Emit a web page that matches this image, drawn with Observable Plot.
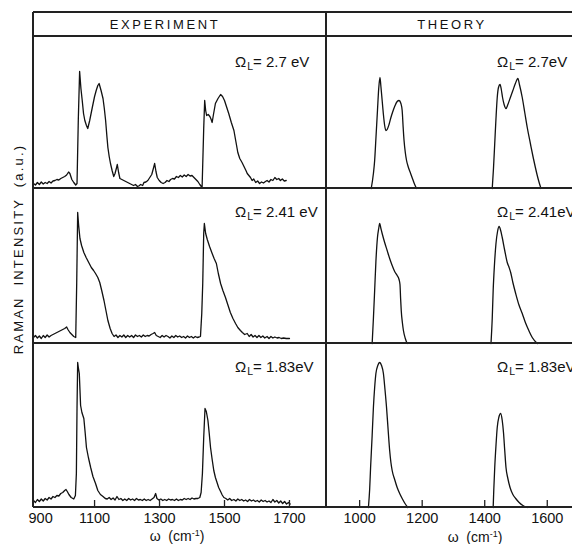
<!DOCTYPE html>
<html><head><meta charset="utf-8">
<script src="https://cdn.jsdelivr.net/npm/d3@7"></script>
<script src="https://cdn.jsdelivr.net/npm/@observablehq/plot@0.6"></script>
<style>
html,body{margin:0;padding:0;background:#fff;overflow:hidden;width:572px;height:544px}
#fig{position:relative;width:620px;height:544px;font-family:"Liberation Sans",Arial,sans-serif;color:#111}
.hl{position:absolute;height:1.5px;background:#222}
.vl{position:absolute;width:1.5px;background:#222}
.panel{position:absolute}
.lbl{position:absolute;font-size:15px;white-space:nowrap;line-height:15px}
.lbl sub{font-size:10.5px;vertical-align:-3px;margin-left:1px}
.head{position:absolute;font-size:13px;letter-spacing:2.6px;white-space:nowrap;transform:translateX(-50%);line-height:13px}
.xlab{position:absolute;font-size:14px;white-space:nowrap;transform:translate(-50%,-50%);line-height:14px}
.xlab sup{font-size:9px;vertical-align:5px}
.ylab{position:absolute;font-size:13px;letter-spacing:2.2px;word-spacing:5px;white-space:nowrap;transform:translate(-50%,-50%) rotate(-90deg);line-height:13px}
</style></head>
<body><div id="fig"></div>
<script>
// ---------- data (ω in cm^-1, intensity in arbitrary units) ----------
const columns = ["EXPERIMENT", "THEORY"];
const laserEnergies = ["2.7", "2.41", "1.83"];
const expLabelText = ["2.7 eV", "2.41 eV", "1.83eV"];
const thyLabelText = ["2.7eV", "2.41eV", "1.83eV"];
const expTicks = [900, 1100, 1300, 1500, 1700];
const thyTicks = [1000, 1200, 1400, 1600];
const expDomain = [912, 1814];
const thyDomain = [894, 1831];
const rowMax = [152, 155, 164];

const exp27 = [[912,5],[918,3.5],[924,6],[930,4],[936,6.5],[942,4.5],[948,6],[954,5],[960,7],[966,5.5],[972,7.5],[978,8],[984,9],[990,8.5],[996,10],[1002,11],[1008,12],[1014,13.5],[1020,16.5],[1024,15],[1030,9],[1036,6],[1042,3.5],[1046,5],
[1050,70],[1054,117],[1058,100],[1062,88],[1066,75],[1070,68],[1075,63],[1079,60],[1085,68],[1093,81],[1100,92],[1105,98],[1110,103],[1114,105],[1120,98],[1126,90],[1130,80],[1134,68],[1138,52],[1141,41],[1145,32],[1149,25],[1154,18],[1159,12],[1163,15],[1167,20],[1170,24],[1174,16],[1178,10],[1184,9],[1190,8],[1196,7],[1202,6],[1208,5],[1214,4],[1220,3],[1226,4],[1232,2],[1236,2.5],[1242,4],[1248,3],[1252,6],[1258,6.5],[1264,8],[1270,11],[1276,14],[1281,20],[1285,25],[1289,17],[1293,11],[1299,8],[1305,6],[1311,5],[1317,6],[1323,8],[1329,7],[1334,9],[1340,10],[1346,9.5],[1352,12],[1358,11],[1364,13],[1370,11.5],[1376,13.5],[1382,12],[1388,14],[1394,12.5],[1400,13],[1406,11],[1412,9],[1418,7],[1424,4],[1431,1],
[1436,60],[1439,88],[1442,78],[1445,73],[1450,74],[1455,72],[1459,69],[1462,66],[1466,74],[1472,85],[1480,90],[1488,94],[1494,92],[1500,88],[1506,82],[1513,75],[1521,66],[1529,58],[1535,47],[1541,36],[1547,30],[1554,26],[1560,22],[1566,18],[1570,15],[1575,13],[1580,11],[1585,8],[1590,9.5],[1596,6],[1602,7.5],[1608,5],[1614,6.5],[1620,5.5],[1626,7],[1631,8],[1637,6.5],[1643,9],[1649,8],[1655,11],[1661,9],[1667,10],[1672,8],[1678,9.5],[1684,7.5],[1690,8]];

const exp241 = [[912,6],[918,8],[924,5.5],[930,7.5],[936,5],[942,8],[948,6],[954,8.5],[960,6.5],[966,8],[972,9],[978,10],[984,11],[990,12],[996,13],[1002,14],[1008,15],[1014,16.5],[1018,14],[1024,11],[1030,9],[1036,7],[1042,6],
[1045,60],[1048,131],[1051,118],[1055,105],[1060,98],[1067,91],[1074,86],[1082,81],[1090,76],[1097,73],[1103,70],[1110,66],[1116,61],[1122,53],[1129,43],[1135,33],[1141,23],[1148,15],[1154,10],[1160,7],[1166,8.5],[1172,6],[1178,8],[1184,6.5],[1190,8.5],[1196,6],[1202,8],[1208,6.5],[1214,8],[1220,6],[1226,8.5],[1232,7],[1238,8],[1244,6.5],[1250,8.5],[1256,7],[1262,8],[1268,7.5],[1274,9],[1280,10],[1285,11],[1290,8],[1296,7],[1302,6],[1308,8],[1314,6.5],[1320,8],[1326,7],[1332,5.5],[1338,7.5],[1344,6],[1350,8],[1356,6.5],[1362,7.5],[1368,6],[1374,7],[1380,5.5],[1386,7.5],[1392,6],[1398,7],[1404,5.5],[1410,7],[1416,6],[1422,6.5],[1426,7],
[1430,30],[1433,60],[1436,110],[1438,120],[1442,110],[1447,104],[1454,97],[1462,90],[1468,85],[1475,80],[1481,70],[1488,60],[1495,53],[1503,46],[1510,39],[1518,31],[1526,25],[1534,20],[1541,16],[1549,13],[1555,11],[1562,9],[1570,10],[1576,7],[1582,9],[1588,6.5],[1594,8],[1600,6],[1606,8],[1612,6],[1618,7.5],[1624,5.5],[1631,7],[1637,5],[1643,7],[1649,5.5],[1655,6.5],[1662,5.5],[1668,6],[1675,5],[1682,5.5],[1690,5],[1700,5]];

const exp183 = [[912,7],[918,5],[924,8],[930,6],[936,8.5],[942,6.5],[948,9],[954,7.5],[960,10],[966,8.5],[972,11],[978,10],[984,12],[990,11.5],[996,14],[1002,15],[1008,17],[1012,18],[1016,16],[1021,13],[1028,10],[1036,8.5],[1041,12],[1044,34],[1046,100],[1048,145],[1050,140],[1053,134],[1055,118],[1057,102],[1061,95],[1067,89],[1071,75],[1075,60],[1081,50],[1088,40],[1095,31],[1103,24],[1110,17],[1118,13],[1126,11],[1133,9],[1139,8.5],[1145,10],[1151,8],[1157,9.5],[1163,7.5],[1169,11],[1175,8],[1181,9],[1187,7],[1193,8.5],[1199,7],[1205,9],[1211,7.5],[1217,8.5],[1223,7],[1229,9],[1235,7.5],[1241,8],[1247,7],[1253,8.5],[1259,7],[1265,8],[1271,7],[1277,8.5],[1283,10],[1288,14],[1292,9],[1298,7.5],[1304,8.5],[1310,7],[1316,8],[1322,7],[1328,8.5],[1334,7.5],[1340,8],[1346,7],[1352,8.5],[1358,7],[1364,8],[1370,7.5],[1376,9],[1382,8],[1388,9],[1394,8],[1400,9.5],[1406,8.5],[1412,9],[1418,9],[1424,10],[1428,15],[1432,34],[1436,70],[1440,99],[1444,96],[1449,87],[1453,74],[1457,60],[1462,48],[1467,37],[1472,30],[1477,25],[1482,20],[1488,16],[1493,12.5],[1498,10],[1504,9],[1510,7.5],[1516,9],[1522,7],[1529,8],[1535,6.5],[1541,8.5],[1547,7],[1553,8],[1559,6.5],[1565,7.5],[1571,6],[1577,8],[1583,6.5],[1589,7.5],[1595,6],[1601,7],[1607,5.5],[1613,7.5],[1619,6],[1625,7],[1631,5.5],[1637,6.5],[1643,5],[1649,8],[1655,5.5],[1661,7],[1667,4.5],[1673,6.5],[1679,4],[1685,6],[1691,3.5],[1697,5],[1702,3.5]];

const thy27a = [[1037,0],[1044,15],[1048,28],[1052,50],[1057,78],[1061,100],[1065,111],[1068,102],[1072,88],[1076,74],[1080,63],[1084,58],[1088,59],[1094,64],[1100,71],[1105,76],[1112,82],[1120,87],[1126,88],[1132,85],[1136,78],[1139,62],[1142,48],[1146,36],[1150,28],[1156,21],[1163,15],[1170,9],[1176,4],[1182,0]];
const thy27b = [[1424,0],[1428,20],[1432,45],[1436,70],[1440,91],[1444,101],[1449,104],[1453,99],[1457,91],[1462,84],[1468,80],[1474,84],[1482,91],[1490,98],[1498,105],[1506,110],[1511,104],[1520,91],[1528,76],[1536,61],[1546,45],[1555,31],[1562,21],[1568,13],[1574,6],[1580,0]];
const thy241a = [[1040,0],[1044,25],[1048,53],[1052,82],[1057,106],[1061,115],[1064,120],[1068,115],[1072,110],[1080,101],[1088,93],[1096,85],[1104,78],[1112,72],[1120,68],[1126,64],[1129,59],[1131,45],[1133,33],[1137,20],[1140,13],[1146,5],[1152,0]];
const thy241b = [[1420,0],[1424,25],[1427,53],[1431,78],[1436,100],[1441,112],[1446,117],[1451,113],[1456,106],[1464,93],[1472,81],[1478,76],[1483,71],[1490,61],[1499,50],[1509,39],[1520,30],[1530,21],[1541,13],[1552,6],[1568,0]];
const thy183a = [[1028,0],[1032,18],[1035,40],[1040,72],[1044,100],[1048,120],[1052,134],[1058,142],[1064,145],[1070,142],[1076,134],[1081,118],[1086,100],[1091,78],[1096,57],[1100,45],[1104,37],[1112,28],[1120,20],[1128,14],[1136,9],[1145,4],[1154,0]];
const thy183b = [[1427,0],[1429,18],[1432,40],[1436,62],[1440,80],[1445,90],[1451,94],[1456,87],[1460,75],[1464,57],[1468,40],[1474,29],[1481,20],[1490,13],[1499,9],[1510,5],[1522,2],[1536,0]];

const expSeries = [[exp27], [exp241], [exp183]];
const thySeries = [[thy27a, thy27b], [thy241a, thy241b], [thy183a, thy183b]];

// ---------- layout ----------
const fig = document.getElementById("fig");
const L = 33, MID = 326, R = 619, TOP = 12, HEAD = 36;
const rowTop = [36, 188, 343];
const BOTTOM = 507;
const PW = 293;
const FONT = '"Liberation Sans", Arial, sans-serif';

function el(cls, style, html) {
  const d = document.createElement("div");
  d.className = cls;
  Object.assign(d.style, style);
  if (html != null) d.innerHTML = html;
  fig.appendChild(d);
  return d;
}

function panel(bands, domain, h, smooth, ticks, bottom, firstTickShift) {
  const data = bands.flatMap((b, k) => b.map(([w, i]) => ({w, i, k})));
  const marks = [
    Plot.line(data, {x: "w", y: "i", z: "k", stroke: "#111", strokeWidth: 1.3,
      curve: smooth ? "monotone-x" : "linear"})
  ];
  if (bottom) {
    const inDomain = ticks.filter(t => t >= domain[0] && t <= domain[1]);
    marks.push(Plot.ruleX(inDomain, {x: d => d, stroke: "#222", strokeWidth: 1.3, insetTop: h - 7}));
    marks.push(Plot.axisX(inDomain, {anchor: "bottom", tickSize: 0, tickPadding: 5, fontSize: 14.5,
      fill: "#111", tickFormat: d => String(d), label: null}));
    const outDomain = ticks.filter(t => t < domain[0]);
    if (outDomain.length) {
      marks.push(Plot.text(outDomain, {x: d => d, text: d => String(d), frameAnchor: "bottom",
        lineAnchor: "top", dy: 5, dx: firstTickShift, fontSize: 14.5, fill: "#111"}));
    }
  }
  return Plot.plot({
    width: PW, height: h + (bottom ? 30 : 0),
    marginTop: 0, marginLeft: 0, marginRight: 0, marginBottom: bottom ? 30 : 0,
    x: {domain, axis: null, label: null},
    y: {domain: [0, h], axis: null},
    style: {fontFamily: FONT, overflow: "visible", background: "transparent"},
    marks
  });
}

for (let r = 0; r < 3; r++) {
  const bottom = r === 2;
  const pe = panel(expSeries[r], expDomain, rowMax[r], false, expTicks, bottom, 11);
  const pt = panel(thySeries[r], thyDomain, rowMax[r], true, thyTicks, bottom, 0);
  const de = el("panel", {left: L + "px", top: rowTop[r] + "px"}); de.appendChild(pe);
  const dt = el("panel", {left: MID + "px", top: rowTop[r] + "px"}); dt.appendChild(pt);
}

// frame lines
[TOP, HEAD, rowTop[1], rowTop[2], BOTTOM].forEach(y =>
  el("hl", {left: L + "px", top: (y - 0.75) + "px", width: (R - L) + "px"}));
[L, MID, R].forEach(x =>
  el("vl", {left: (x - 0.75) + "px", top: TOP + "px", height: (BOTTOM - TOP) + "px"}));

// headers
el("head", {left: "165px", top: "18px"}, columns[0]);
el("head", {left: "452px", top: "18px"}, columns[1]);

// Ω_L labels
const lblTop = [54, 204, 359];
for (let r = 0; r < 3; r++) {
  el("lbl", {left: "235px", top: lblTop[r] + "px"}, "Ω<sub>L</sub>= " + expLabelText[r]);
  el("lbl", {left: "497px", top: lblTop[r] + "px"}, "Ω<sub>L</sub>= " + thyLabelText[r]);
}

// axis titles
el("xlab", {left: "177px", top: "534px"}, "ω&nbsp;&nbsp;(cm<sup>-1</sup>)");
el("xlab", {left: "475px", top: "535px"}, "ω&nbsp;&nbsp;(cm<sup>-1</sup>)");
el("ylab", {left: "18px", top: "249px"}, "RAMAN INTENSITY (a.u.)");
</script>
</body></html>
